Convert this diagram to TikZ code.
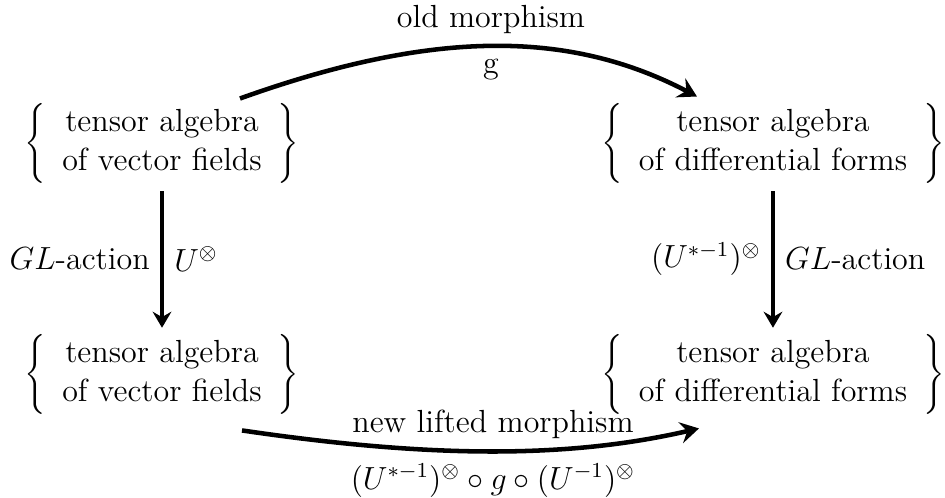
\documentclass[12pt,tikz,border=0pt]{standalone}
\usetikzlibrary{arrows.meta, positioning}
\tikzset{
  algebra/.style={inner sep=0pt, outer sep=0pt},
  action/.style={-{Stealth[length=6pt, width=7pt, inset=2pt]}, line width=1.2pt, shorten <=3pt, shorten >=2.5pt},
  morph/.style={-{Stealth[length=7pt, width=8pt, inset=2.5pt]}, line width=1.7pt},
}
\newcommand{\algset}[1]{$\left\{\begin{tabular}{c}tensor algebra\\of #1\end{tabular}\right\}$}

\begin{document}
\begin{tikzpicture}[x=0.375pt, y=-0.375pt, node distance=56.6pt and 113.3pt]
  \useasboundingbox (0,0) rectangle (945,498);

  % The four tensor algebras
  \node[algebra] (vecTop) at (162,143.5) {\algset{vector fields}};
  \node[algebra, right=of vecTop] (formTop) {\algset{differential forms}};
  \node[algebra, below=of vecTop] (vecBot) {\algset{vector fields}};
  \node[algebra, below=of formTop] (formBot) {\algset{differential forms}};

  % GL-action on both sides
  \draw[action] (vecTop) -- (vecBot)
    node[midway, left] {$GL$-action} node[midway, right] {$U^{\otimes}$};
  \draw[action] (formTop) -- (formBot)
    node[midway, left] {$(U^{*-1})^{\otimes}$} node[midway, right] {$GL$-action};

  % Old and lifted morphisms
  \draw[morph] ([shift={(78,-5)}]vecTop.north) .. controls +(190,-68) and +(-130,-68) ..
    node[above] {old morphism} node[below] {g} ([shift={(-76,-7)}]formTop.north);
  \draw[morph] ([shift={(80,16)}]vecBot.south) .. controls +(190,28) and +(-130,30) ..
    node[above] {new lifted morphism}
    node[below] {$(U^{*-1})^{\otimes}\circ g\circ(U^{-1})^{\otimes}$} ([shift={(-74,14)}]formBot.south);
\end{tikzpicture}
\end{document}
